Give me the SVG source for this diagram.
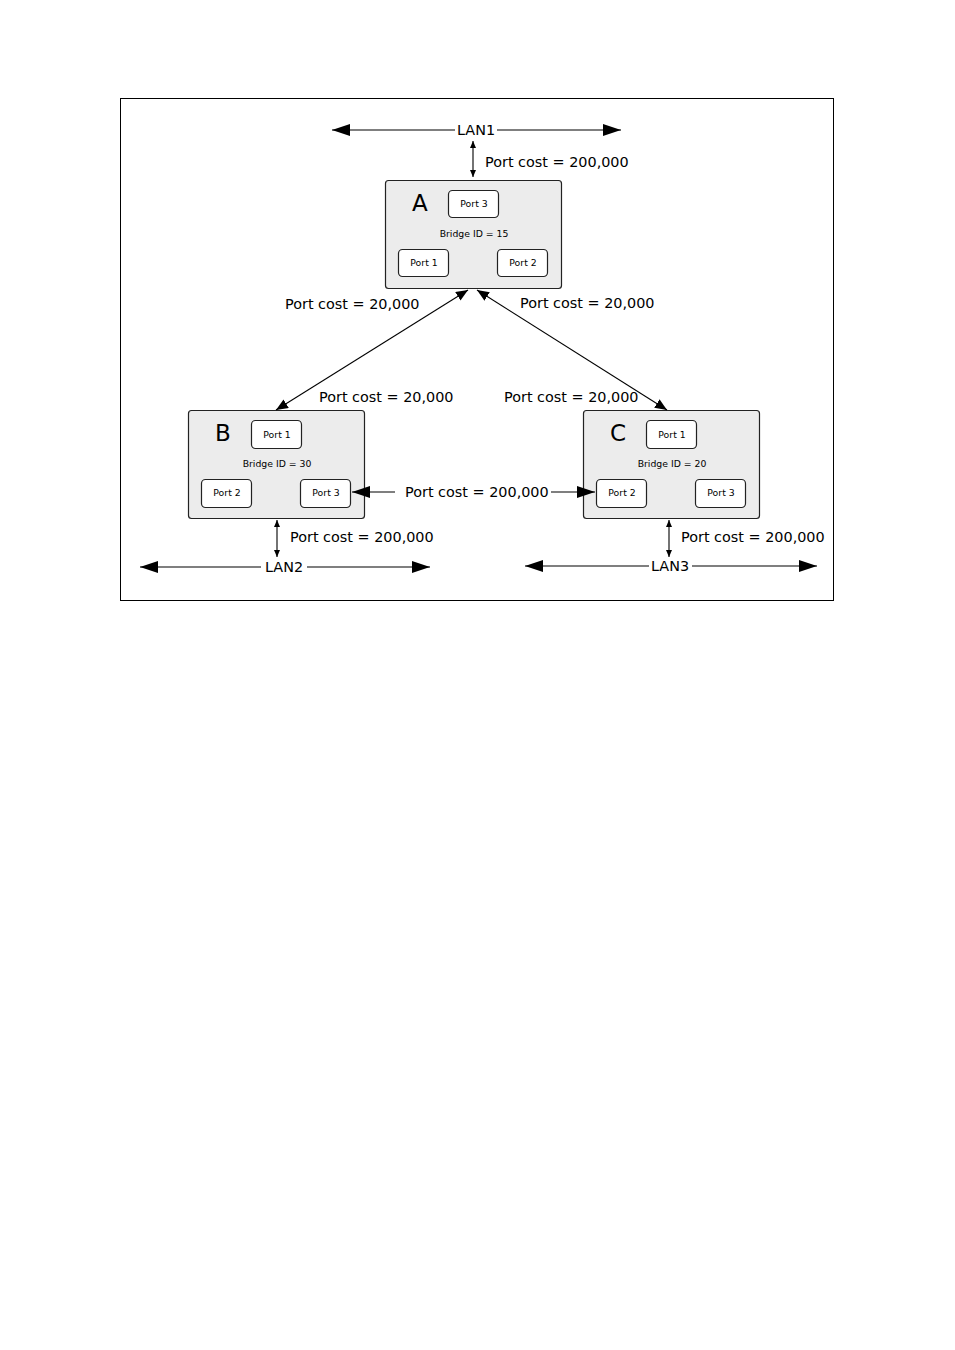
<svg xmlns="http://www.w3.org/2000/svg" width="955" height="1350" viewBox="0 0 955 1350">
<style>
text{font-family:"DejaVu Sans","Liberation Sans",sans-serif;fill:#000}
.lbl{font-size:14.4px}
.lan{font-size:14.4px;text-anchor:middle}
.big{font-size:23px}
.small{font-size:9.3px;text-anchor:middle}
.node{fill:#ececec;stroke:#222;stroke-width:1.2}
.port{fill:#fff;stroke:#222;stroke-width:1.2}
.ln{stroke:#000;stroke-width:1.1;fill:none}
</style>
<defs>
<marker id="big" viewBox="0 0 18 12" refX="18" refY="6" markerWidth="18" markerHeight="12" markerUnits="userSpaceOnUse" orient="auto-start-reverse"><path d="M0,0L18,6L0,12z" fill="#000"/></marker>
<marker id="mid" viewBox="0 0 12 10" refX="12" refY="5" markerWidth="12" markerHeight="10" markerUnits="userSpaceOnUse" orient="auto-start-reverse"><path d="M0,0L12,5L0,10z" fill="#000"/></marker>
<marker id="sm" viewBox="0 0 7 6" refX="7" refY="3" markerWidth="7" markerHeight="6" markerUnits="userSpaceOnUse" orient="auto-start-reverse"><path d="M0,0L7,3L0,6z" fill="#000"/></marker>
</defs>
<rect x="120.5" y="98.5" width="713" height="502" fill="#fff" stroke="#000" stroke-width="1"/>
<g id="nodeA">
<rect class="node" x="385.5" y="180.5" width="176" height="108" rx="3"/>
<text class="big" x="412" y="211">A</text>
<rect class="port" x="448.5" y="190.5" width="50" height="27" rx="4"/>
<text class="small" x="474" y="207">Port 3</text>
<text class="small" x="474" y="237">Bridge ID = 15</text>
<rect class="port" x="398.5" y="249.5" width="50" height="27" rx="4"/>
<text class="small" x="424" y="266">Port 1</text>
<rect class="port" x="497.5" y="249.5" width="50" height="27" rx="4"/>
<text class="small" x="523" y="266">Port 2</text>
</g>
<g id="nodeB">
<rect class="node" x="188.5" y="410.5" width="176" height="108" rx="3"/>
<text class="big" x="215" y="441">B</text>
<rect class="port" x="251.5" y="420.5" width="50" height="28" rx="4"/>
<text class="small" x="277" y="438">Port 1</text>
<text class="small" x="277" y="467">Bridge ID = 30</text>
<rect class="port" x="201.5" y="479.5" width="50" height="28" rx="4"/>
<text class="small" x="227" y="496">Port 2</text>
<rect class="port" x="300.5" y="479.5" width="50" height="28" rx="4"/>
<text class="small" x="326" y="496">Port 3</text>
</g>
<g id="nodeC">
<rect class="node" x="583.5" y="410.5" width="176" height="108" rx="3"/>
<text class="big" x="610" y="441">C</text>
<rect class="port" x="646.5" y="420.5" width="50" height="28" rx="4"/>
<text class="small" x="672" y="438">Port 1</text>
<text class="small" x="672" y="467">Bridge ID = 20</text>
<rect class="port" x="596.5" y="479.5" width="50" height="28" rx="4"/>
<text class="small" x="622" y="496">Port 2</text>
<rect class="port" x="695.5" y="479.5" width="50" height="28" rx="4"/>
<text class="small" x="721" y="496">Port 3</text>
</g>
<g id="connectors">
<path class="ln" d="M455,130H332" marker-end="url(#big)"/>
<path class="ln" d="M497,130H621" marker-end="url(#big)"/>
<path class="ln" d="M473,141V177" marker-start="url(#sm)" marker-end="url(#sm)"/>
<path class="ln" d="M468,290L276,410" marker-start="url(#mid)" marker-end="url(#mid)"/>
<path class="ln" d="M477,290L667,410" marker-start="url(#mid)" marker-end="url(#mid)"/>
<path class="ln" d="M395,492H352" marker-end="url(#big)"/>
<path class="ln" d="M551,492H595" marker-end="url(#big)"/>
<path class="ln" d="M277,520V557" marker-start="url(#sm)" marker-end="url(#sm)"/>
<path class="ln" d="M261,567H140" marker-end="url(#big)"/>
<path class="ln" d="M307,567H430" marker-end="url(#big)"/>
<path class="ln" d="M669,520V557" marker-start="url(#sm)" marker-end="url(#sm)"/>
<path class="ln" d="M649,566H525" marker-end="url(#big)"/>
<path class="ln" d="M692,566H817" marker-end="url(#big)"/>
</g>
<g id="labels">
<text class="lan" x="476" y="135">LAN1</text>
<text class="lbl" x="485" y="167">Port cost = 200,000</text>
<text class="lbl" x="285" y="309">Port cost = 20,000</text>
<text class="lbl" x="520" y="308">Port cost = 20,000</text>
<text class="lbl" x="319" y="402">Port cost = 20,000</text>
<text class="lbl" x="504" y="402">Port cost = 20,000</text>
<text class="lbl" x="405" y="497">Port cost = 200,000</text>
<text class="lbl" x="290" y="542">Port cost = 200,000</text>
<text class="lbl" x="681" y="542">Port cost = 200,000</text>
<text class="lan" x="284" y="572">LAN2</text>
<text class="lan" x="670" y="571">LAN3</text>
</g>
</svg>
